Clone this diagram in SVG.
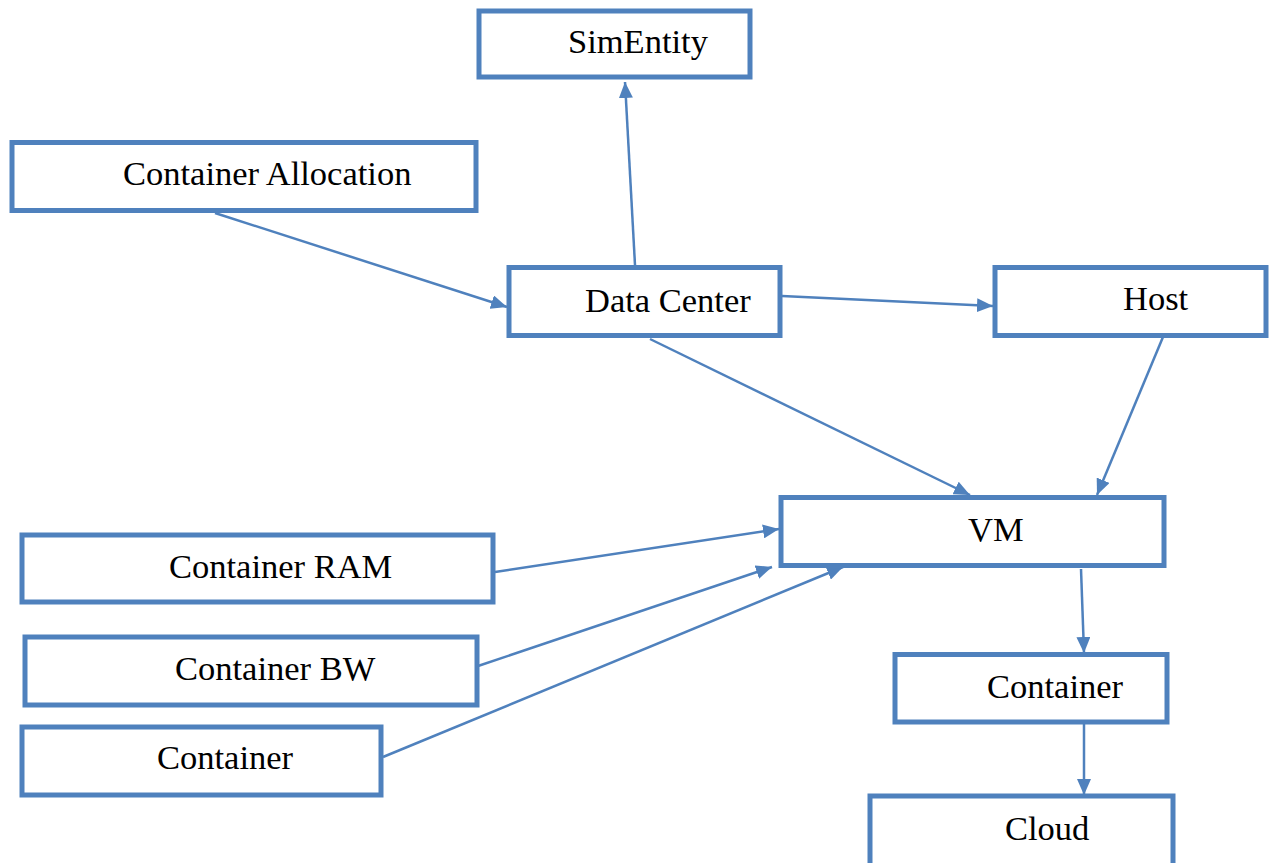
<svg xmlns="http://www.w3.org/2000/svg" width="1275" height="863" viewBox="0 0 1275 863">
  <style>
    .box { fill: #FFFFFF; stroke: #4F81BD; stroke-width: 5; }
    .label { font-family: "Liberation Serif", "Times New Roman", serif; font-size: 34.5px; fill: #000000; }
    .link { fill: none; stroke: #4F81BD; stroke-width: 2.5; marker-end: url(#arrow); }
  </style>
  <defs>
    <marker id="arrow" markerUnits="userSpaceOnUse" markerWidth="16" markerHeight="14" refX="16" refY="7" orient="auto">
      <path d="M0,0 L16,7 L0,14 Z" fill="#4F81BD"/>
    </marker>
  </defs>
  <rect width="1275" height="863" fill="#FFFFFF"/>

  <g id="connectors">
    <line class="link" x1="215" y1="213" x2="507" y2="307"/>
    <line class="link" x1="635" y1="265" x2="625" y2="82"/>
    <line class="link" x1="782" y1="296" x2="993" y2="306"/>
    <line class="link" x1="650" y1="339" x2="970" y2="495"/>
    <line class="link" x1="1163" y1="337" x2="1097" y2="495"/>
    <line class="link" x1="495" y1="572" x2="779" y2="529"/>
    <line class="link" x1="478" y1="666" x2="772" y2="567"/>
    <line class="link" x1="383" y1="757" x2="843" y2="567"/>
    <line class="link" x1="1081" y1="569" x2="1084" y2="653"/>
    <line class="link" x1="1084" y1="724" x2="1084" y2="795"/>
  </g>

  <g id="simentity">
    <rect class="box" x="479" y="11" width="271" height="66"/>
    <text class="label" x="568" y="53">SimEntity</text>
  </g>
  <g id="container-allocation">
    <rect class="box" x="12" y="142.5" width="464" height="68"/>
    <text class="label" x="123" y="185">Container Allocation</text>
  </g>
  <g id="data-center">
    <rect class="box" x="509" y="267.5" width="271" height="68"/>
    <text class="label" x="585" y="312">Data Center</text>
  </g>
  <g id="host">
    <rect class="box" x="995" y="267.5" width="271" height="68"/>
    <text class="label" x="1123" y="310">Host</text>
  </g>
  <g id="vm">
    <rect class="box" x="781" y="497.5" width="383" height="68"/>
    <text class="label" x="968" y="541">VM</text>
  </g>
  <g id="container-ram">
    <rect class="box" x="22" y="535" width="471" height="67"/>
    <text class="label" x="169" y="578">Container RAM</text>
  </g>
  <g id="container-bw">
    <rect class="box" x="25" y="637" width="452" height="68"/>
    <text class="label" x="175" y="680">Container BW</text>
  </g>
  <g id="container-left">
    <rect class="box" x="22" y="727" width="359" height="68"/>
    <text class="label" x="157" y="769">Container</text>
  </g>
  <g id="container-right">
    <rect class="box" x="895" y="654.5" width="272" height="67.5"/>
    <text class="label" x="987" y="698">Container</text>
  </g>
  <g id="cloud">
    <rect class="box" x="870" y="796" width="303" height="80"/>
    <text class="label" x="1005" y="840">Cloud</text>
  </g>
</svg>
